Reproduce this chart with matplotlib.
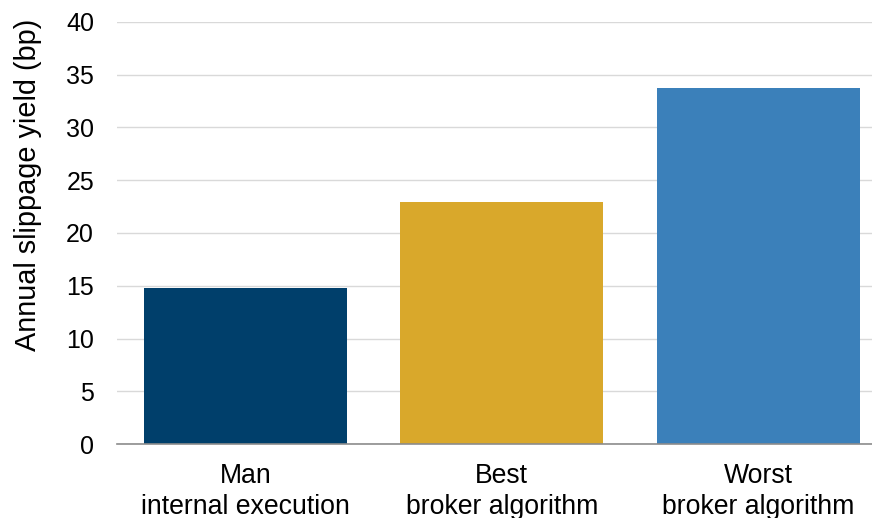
import matplotlib
matplotlib.use("Agg")
import matplotlib.pyplot as plt

categories = ["Man\ninternal execution", "Best\nbroker algorithm", "Worst\nbroker algorithm"]
values = [14.8, 22.9, 33.7]
colors = ["#003f6b", "#d9a82b", "#3b80ba"]
yticks = [0, 5, 10, 15, 20, 25, 30, 35, 40]

plt.rcParams["font.family"] = ["Liberation Sans", "DejaVu Sans"]

fig = plt.figure(figsize=(8.72, 5.18), dpi=100)
ax = fig.add_axes([117 / 872, 74 / 518, 769.5 / 872, 422 / 518])

x = list(range(len(categories)))
ax.bar(x, values, width=0.79, color=colors, zorder=3)

ax.set_xlim(-0.5, 2.5)
ax.set_ylim(0, 40)
ax.set_yticks(yticks)
ax.set_xticks(x)
ax.set_xticklabels(categories, fontsize=19.2, linespacing=1.22)
ax.tick_params(axis="y", labelsize=18, length=0, pad=16.5)
ax.tick_params(axis="x", length=0, pad=14)

ax.grid(axis="y", color="#d9d9d9", linewidth=1, zorder=0)
for side in ["top", "right", "left"]:
    ax.spines[side].set_visible(False)
ax.spines["bottom"].set_color("#8c8c8c")
ax.spines["bottom"].set_linewidth(1.2)
ax.spines["bottom"].set_zorder(4)

ax.set_ylabel("Annual slippage yield (bp)", fontsize=20.8, va="center")
ax.yaxis.set_label_coords(-0.1157, 0.613)

fig.savefig("out.png", dpi=100)
